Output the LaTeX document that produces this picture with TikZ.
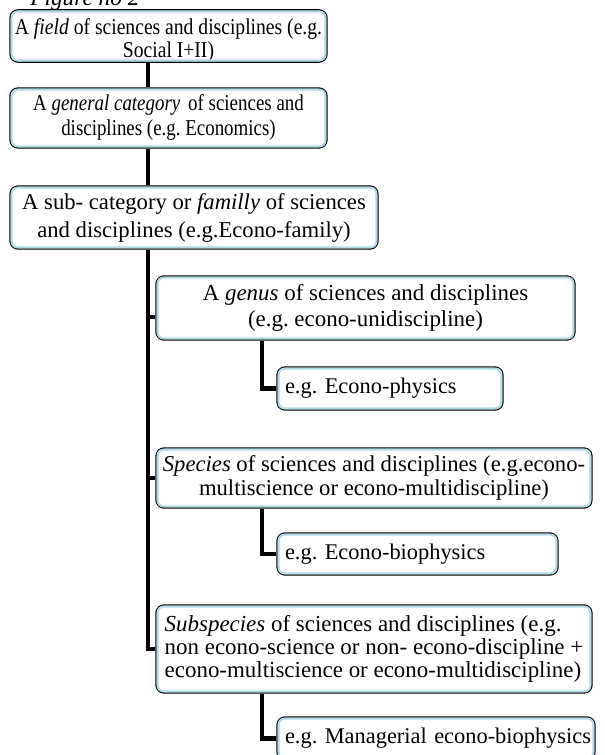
\documentclass[tikz,border=0pt]{standalone}
\usepackage{fontspec}
\setmainfont{Liberation Serif}
\frenchspacing
\definecolor{boxblue}{RGB}{176,218,228}
\newcommand{\narrow}[3]{\raisebox{#2}[\height][\depth]{\scalebox{#1}[1]{\begin{tabular}{@{}c@{}}#3\end{tabular}}}}
\tikzset{
  box/.style={draw=black, line width=1pt, rounded corners=6pt, fill=white,
    align=center, inner sep=2pt},
  lines/.style 2 args={font=\fontsize{#1}{#2}\selectfont},
  leaf/.style={box, align=left, inner xsep=6pt, lines={16.8}{20}},
  link/.style={line width=3.6pt, black},
}

\begin{document}
\begin{tikzpicture}[x=0.75pt,y=-0.75pt]
  \useasboundingbox (0,0) rectangle (605,755);
  \node (fig) [anchor=base west, lines={17.5}{18}, inner sep=0pt] at (30,6) {\textit{Figure no 2}};

  \node (fld) [box, lines={17}{17.6}, minimum width=237.75pt, minimum height=39pt] at (168.5,36)
    {\narrow{0.865}{-4pt}{A \textit{field} of sciences and disciplines (e.g.\\ Social I+II)}};
  \node (gen) [box, lines={17}{18.75}, minimum width=237.75pt, minimum height=45pt] at (168.5,118)
    {\narrow{0.835}{0pt}{A \textit{general category}\, of sciences and\\ disciplines (e.g. Economics)}};
  \node (fam) [box, lines={17}{21}, minimum width=276pt, minimum height=47.25pt] at (194,217.5)
    {A sub- category or \textit{familly} of sciences\\ and disciplines (e.g.Econo-family)};
  \node (gns) [box, lines={17.2}{19.5}, minimum width=314.25pt, minimum height=48pt] at (365.5,308)
    {A \textit{genus} of sciences and disciplines\\ (e.g. econo-unidiscipline)};
  \node (phy) [leaf, text width=157.5pt, minimum height=32.25pt] at (390,388.5)
    {\mbox{e.g. Econo-physics}};
  \node (spc) [box, lines={17}{17.5}, minimum width=327pt, minimum height=45pt] at (374,478)
    {\textit{Species} of sciences and disciplines (e.g.econo-\\ multiscience or econo-multidiscipline)};
  \node (bio) [leaf, text width=198.75pt, minimum height=31.5pt] at (417.5,554)
    {\mbox{e.g. Econo-biophysics}};
  \node (sub) [box, align=left, lines={17.2}{17.4}, minimum width=327pt, minimum height=66pt] at (374,649)
    {\textit{Subspecies} of sciences and disciplines (e.g.\\ non econo-science or non- econo-discipline +\\ econo-multiscience or econo-multidiscipline)};
  \node (mng) [leaf, text width=226.5pt, minimum height=32.25pt] at (436,738.5)
    {\mbox{e.g. Managerial econo-biophysics}};

  \foreach \n in {fld,gen,fam,gns,phy,spc,bio,sub,mng}
    \draw[boxblue, line width=1.6pt, rounded corners=4.5pt]
      ([shift={(1.7pt,-1.7pt)}]\n.north west) rectangle ([shift={(-1.7pt,1.7pt)}]\n.south east);

  \coordinate (tx) at (148,0);
  \coordinate (sx) at (262,0);
  \draw[link] (fld.south -| tx) -- (gen.north -| tx);
  \draw[link] (gen.south -| tx) -- (fam.north -| tx);
  \draw[link] (fam.south -| tx) |- (sub.west);
  \draw[link] ([yshift=-6.75pt]gns.west -| tx) -- ([yshift=-6.75pt]gns.west);
  \draw[link] (spc.west -| tx) -- (spc.west);
  \draw[link] (gns.south -| sx) |- (phy.west);
  \draw[link] (spc.south -| sx) |- (bio.west);
  \draw[link] (sub.south -| sx) |- (mng.west);
\end{tikzpicture}
\end{document}
